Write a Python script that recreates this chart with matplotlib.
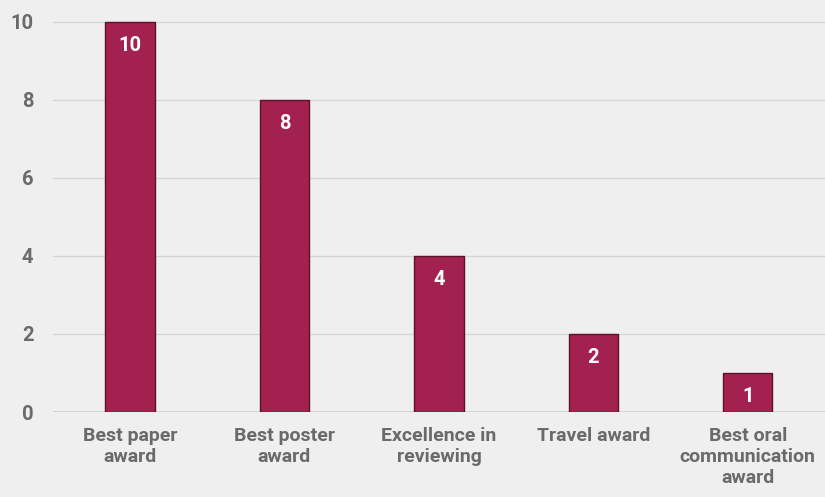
import matplotlib.pyplot as plt

# award counts
categories = ["Best paper\naward", "Best poster\naward", "Excellence in\nreviewing",
              "Travel award", "Best oral\ncommunication\naward"]
counts = [10, 8, 4, 2, 1]
yticks = [0, 2, 4, 6, 8, 10]

bg = "#efefef"
bar_color = "#a3214f"
text_grey = "#6a6a6a"

plt.rcParams['font.family'] = ['Roboto', 'DejaVu Sans']

fig = plt.figure(figsize=(8.25, 4.97), dpi=100, facecolor=bg)
ax = fig.add_axes([0.064, 0.171, 0.936, 0.801])
ax.set_facecolor(bg)

x = list(range(len(categories)))
bars = ax.bar(x, counts, width=0.32, color=bar_color, edgecolor="#5e1029",
              linewidth=1.0, zorder=3)

for b, v in zip(bars, counts):
    ax.text(b.get_x() + b.get_width() / 2, v - 0.6, str(v), ha="center", va="center",
            color="white", fontsize=14.5, fontweight="bold", zorder=4)

ax.set_xlim(-0.5, len(categories) - 0.5)
ax.set_ylim(0, 10.2)
ax.set_yticks(yticks)
ax.set_yticklabels([str(t) for t in yticks], fontsize=14.5, fontweight="bold", color=text_grey)
ax.set_xticks(x)
ax.set_xticklabels(categories, fontsize=14, fontweight="bold", color=text_grey,
                   linespacing=1.2, va="top")

ax.grid(axis="y", color="#d6d6d6", linewidth=1.0, zorder=0)
ax.axhline(0, color="#cfcfcf", linewidth=1.2, zorder=2)
for s in ax.spines.values():
    s.set_visible(False)
ax.tick_params(axis="both", length=0)
ax.tick_params(axis="y", pad=14)
ax.tick_params(axis="x", pad=11)

fig.savefig("out.png", dpi=100, facecolor=bg)
